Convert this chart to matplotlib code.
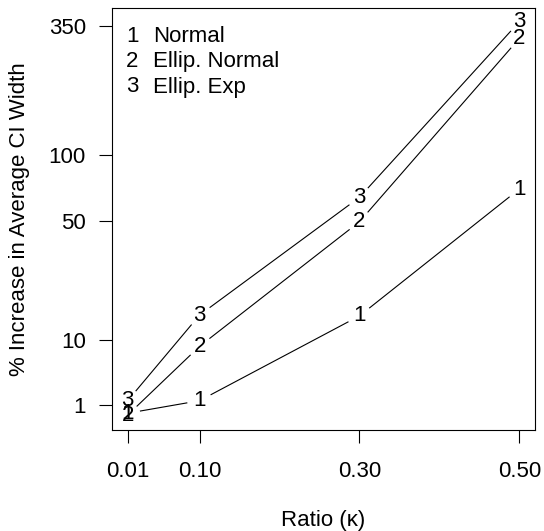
import matplotlib
matplotlib.use("Agg")
import matplotlib.pyplot as plt
import numpy as np

plt.rcParams["font.family"] = ["Liberation Sans", "DejaVu Sans"]

# ratio kappa and % increase in average CI width
ratio = [0.01, 0.10, 0.30, 0.50]
normal = [0.2, 1.45, 15.0, 70.4]
ellip_normal = [0.03, 8.9, 49.5, 312.0]
ellip_exp = [1.45, 15.2, 64.5, 365.5]
series = [("1", "Normal", normal), ("2", "Ellip. Normal", ellip_normal), ("3", "Ellip. Exp", ellip_exp)]
yticks = [1, 10, 50, 100, 350]
xticks = [0.01, 0.10, 0.30, 0.50]

FS = 16
fw, fh = 544, 531
fig = plt.figure(figsize=(fw / 100, fh / 100), dpi=100)
ax = fig.add_axes([112 / fw, 1 - 430 / fh, (535 - 112) / fw, (430 - 8) / fh])

fwd = lambda v: np.log10(np.asarray(v, float) + 10)
inv = lambda t: 10 ** np.asarray(t, float) - 10
ax.set_yscale("function", functions=(fwd, inv))
ax.set_xlim(-0.0096, 0.5196)
ax.set_ylim(-1.26, 416)

gap = 13  # px left blank around each plotted number (type="b")
tr = ax.transData
for num, name, vals in series:
    pts = tr.transform(np.column_stack([ratio, vals]))
    for p, q in zip(pts[:-1], pts[1:]):
        d = q - p; L = np.hypot(*d)
        if L <= 2 * gap:
            continue
        u = d / L
        seg = tr.inverted().transform([p + u * gap, q - u * gap])
        ax.plot(seg[:, 0], seg[:, 1], color="black", lw=0.8)
    for x, v in zip(ratio, vals):
        ax.text(x, v, num, ha="center", va="center", fontsize=FS)

# legend (no box), numbers as symbols
for i, (num, name, _) in enumerate(series):
    yy = 1 - (36 + 25.5 * i - 8) / (430 - 8)
    ax.text((132 - 112) / (535 - 112), yy, num, transform=ax.transAxes, ha="center", va="center", fontsize=FS)
    ax.text((153 - 112) / (535 - 112), yy, name, transform=ax.transAxes, ha="left", va="center", fontsize=FS)

ax.set_xticks(xticks)
ax.set_xticklabels([f"{t:.2f}" for t in xticks])
ax.set_yticks(yticks)
ax.set_yticklabels([str(t) for t in yticks])
ax.minorticks_off()
ax.tick_params(axis="both", length=9.4, width=0.8, labelsize=FS, direction="out")
ax.tick_params(axis="x", pad=13)
ax.tick_params(axis="y", pad=9.5)
for s in ax.spines.values():
    s.set_linewidth(0.8)

ax.set_xlabel("Ratio (κ)", fontsize=FS, labelpad=20)
ax.set_ylabel("% Increase in Average CI Width", fontsize=FS, labelpad=13)

fig.savefig("out.png", dpi=100)
